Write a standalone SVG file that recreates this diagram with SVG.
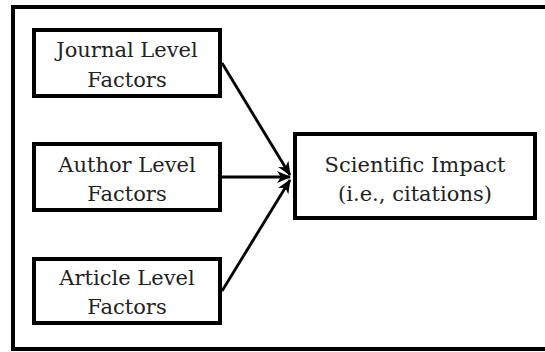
<svg xmlns="http://www.w3.org/2000/svg" width="545" height="352" viewBox="0 0 545 352">
<style>
.box{fill:#fff;stroke:#000;stroke-width:4}
.frame{fill:#fff;stroke:#000;stroke-width:4}
.lbl{font-family:"DejaVu Serif","Liberation Serif",serif;font-size:21px;fill:#222;text-anchor:middle}
.edge{stroke:#000;stroke-width:2.8;fill:none}
</style>
<defs>
<marker id="ah" markerUnits="userSpaceOnUse" markerWidth="16" markerHeight="14" refX="13" refY="6" orient="auto">
<path d="M0,0 L14,6 L0,12 L4,6 Z" fill="#000"/>
</marker>
</defs>
<rect class="frame" x="13" y="7" width="540" height="342"/>
<g id="journal">
<rect class="box" x="34" y="30" width="186" height="66"/>
<text class="lbl" x="127" y="57">Journal Level</text>
<text class="lbl" x="127" y="87">Factors</text>
</g>
<g id="author">
<rect class="box" x="34" y="144" width="186" height="66"/>
<text class="lbl" x="127" y="172">Author Level</text>
<text class="lbl" x="127" y="201">Factors</text>
</g>
<g id="article">
<rect class="box" x="34" y="259" width="186" height="64"/>
<text class="lbl" x="127" y="285">Article Level</text>
<text class="lbl" x="127" y="314">Factors</text>
</g>
<g id="impact">
<rect class="box" x="295" y="134" width="240" height="84"/>
<text class="lbl" x="415" y="172">Scientific Impact</text>
<text class="lbl" x="415" y="201">(i.e., citations)</text>
</g>
<g id="connectors">
<line class="edge" x1="222" y1="63" x2="290" y2="175" marker-end="url(#ah)"/>
<line class="edge" x1="222" y1="177" x2="290" y2="177" marker-end="url(#ah)"/>
<line class="edge" x1="222" y1="291" x2="290" y2="180" marker-end="url(#ah)"/>
</g>
</svg>
